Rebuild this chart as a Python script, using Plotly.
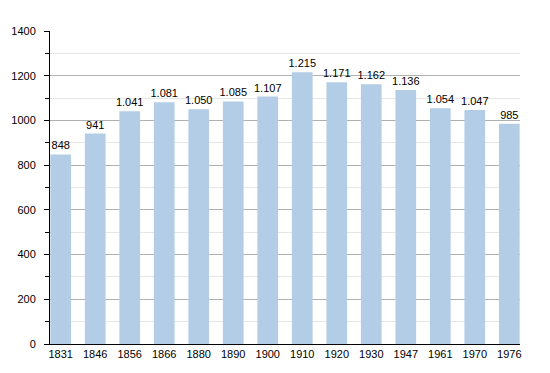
import plotly.graph_objects as go

years = ["1831", "1846", "1856", "1866", "1880", "1890", "1900", "1910", "1920", "1930", "1947", "1961", "1970", "1976"]
population = [848, 941, 1041, 1081, 1050, 1085, 1107, 1215, 1171, 1162, 1136, 1054, 1047, 985]

def fmt(v):
    return f"{v:,}".replace(",", ".")

labels = [fmt(v) for v in population]
xpos = list(range(len(years)))

fig = go.Figure()
fig.add_trace(go.Bar(
    x=xpos, y=population, width=0.6,
    marker=dict(color="#b3cde6", line=dict(width=0)),
    text=labels, textposition="outside", cliponaxis=False,
    constraintext="none",
    textfont=dict(family="Liberation Sans, Arial", size=11, color="#000"),
))
fig.update_layout(
    width=542, height=365,
    margin=dict(l=42, r=30, t=23, b=29, autoexpand=False),
    plot_bgcolor="white", paper_bgcolor="white",
    showlegend=False,
    font=dict(family="Liberation Sans, Arial", size=11, color="#000"),
)
fig.update_xaxes(
    tickmode="array", tickvals=xpos, ticktext=years,
    range=[-0.31, 13.31], showline=True, linecolor="#000", linewidth=1,
    ticks="", showgrid=False, zeroline=False, automargin=False,
)
fig.update_yaxes(
    range=[0, 1400], dtick=200, showline=True, linecolor="#000", linewidth=1,
    ticks="outside", ticklen=5, tickcolor="#000", tickwidth=1,
    showgrid=True, gridcolor="#b0b0b0", gridwidth=1, zeroline=False,
    ticklabelstandoff=6, automargin=False,
    minor=dict(dtick=100, showgrid=True, gridcolor="#e6e6e6", ticks="outside", ticklen=4, tickcolor="#000"),
)
fig.write_html("out.html")
